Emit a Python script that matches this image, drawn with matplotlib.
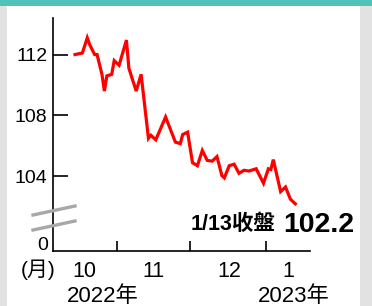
import numpy as np
import matplotlib
matplotlib.use('Agg')
import matplotlib.pyplot as plt
import matplotlib.dates as mdates
from matplotlib.lines import Line2D
from matplotlib.patches import Rectangle

plt.rcParams['font.family'] = ['Liberation Sans', 'Noto Sans CJK TC']

# 美元指數（每日收盤）
dates = np.array([
    '2022-10-15', '2022-10-18', '2022-10-20', '2022-10-21', '2022-10-23', '2022-10-24',
    '2022-10-26', '2022-10-27', '2022-10-28', '2022-10-30', '2022-10-31', '2022-11-02',
    '2022-11-05', '2022-11-06', '2022-11-09', '2022-11-11', '2022-11-14', '2022-11-15',
    '2022-11-17', '2022-11-21', '2022-11-25', '2022-11-27', '2022-11-28', '2022-11-30',
    '2022-12-02', '2022-12-04', '2022-12-06', '2022-12-08', '2022-12-10', '2022-12-12',
    '2022-12-14', '2022-12-15', '2022-12-17', '2022-12-19', '2022-12-21', '2022-12-23',
    '2022-12-25', '2022-12-28', '2022-12-31', '2023-01-02', '2023-01-03', '2023-01-04',
    '2023-01-07', '2023-01-09', '2023-01-11', '2023-01-13'], dtype='datetime64[D]')
values = np.array([
    112.0, 112.1, 113.1, 112.65, 112.0, 112.0,
    110.7, 109.6, 110.6, 110.7, 111.6, 111.3,
    112.95, 111.1, 109.6, 110.7, 106.5, 106.7,
    106.4, 107.9, 106.25, 106.15, 106.75, 106.9,
    104.9, 104.7, 105.7, 105.05, 105.0, 105.3,
    104.05, 103.9, 104.7, 104.8, 104.2, 104.4,
    104.35, 104.5, 103.55, 104.5, 104.45, 105.1,
    103.0, 103.3, 102.5, 102.2])

yticks = [104, 108, 112]
month_pos = np.array(['2022-10-19', '2022-11-16', '2022-12-17', '2023-01-10'], dtype='datetime64[D]')
month_labels = ['10', '11', '12', '1']
month_starts = np.array(['2022-11-01', '2022-12-01', '2023-01-01'], dtype='datetime64[D]')
y_bottom = 99.1   # 斷軸の下端（"0"と表示）
last_label = '1/13收盤'
last_value = '102.2'

W, H = 372, 306
fig = plt.figure(figsize=(W / 100, H / 100), dpi=100)
fig.patch.set_facecolor('white')

# 枠の背景（上の帯と左右の灰色）
fig.patches.append(Rectangle((0, 1 - 6 / H), 1, 6 / H, transform=fig.transFigure,
                             facecolor='#52c2b8', edgecolor='none', zorder=0))
fig.patches.append(Rectangle((0, 0), 7 / W, 1 - 6 / H, transform=fig.transFigure,
                             facecolor='#e2e2e2', edgecolor='none', zorder=0))
fig.patches.append(Rectangle((360 / W, 0), 12 / W, 1 - 6 / H, transform=fig.transFigure,
                             facecolor='#e2e2e2', edgecolor='none', zorder=0))

ax = fig.add_axes([53 / W, (H - 251) / H, (310 - 53) / W, (251 - 18) / H])
ax.set_facecolor('none')

ax.plot(dates.astype('datetime64[ms]').astype(object), values, color='#ff0000', lw=2.3,
        solid_joinstyle='miter', zorder=3)

ax.set_xlim(mdates.date2num(np.datetime64('2022-10-06')), mdates.date2num(np.datetime64('2023-01-19')))
ax.set_ylim(y_bottom, 114.4)

for s in ['top', 'right']:
    ax.spines[s].set_visible(False)
for s in ['left', 'bottom']:
    ax.spines[s].set_linewidth(1.2)

ax.set_yticks(yticks)
ax.set_yticklabels([str(v) for v in yticks])
ax.tick_params(axis='y', direction='in', length=10.5, width=1.2, pad=4, labelsize=14)

ax.set_xticks(mdates.date2num(month_starts))
ax.set_xticklabels([])
ax.set_xticks(mdates.date2num(month_pos), minor=True)
ax.set_xticklabels(month_labels, minor=True)
ax.tick_params(axis='x', which='major', direction='in', length=7, width=1.2)
ax.tick_params(axis='x', which='minor', length=0, pad=7, labelsize=15.5)

# 断軸下端の「0」
fig.text(48 / W, 1 - 246 / H, '0', ha='right', va='center', fontsize=14)

# 断軸マーク
for y0 in [215, 230]:
    fig.add_artist(Line2D([33 / W, 75 / W], [1 - y0 / H, 1 - (y0 - 9) / H],
                          transform=fig.transFigure, color='#a8a8a8', lw=2.4))

fig.text(38 / W, 1 - 270 / H, '(月)', ha='center', va='center', fontsize=15)
fig.text(103 / W, 1 - 302 / H, '2022年', ha='center', va='baseline', fontsize=16)
fig.text(294 / W, 1 - 302 / H, '2023年', ha='center', va='baseline', fontsize=16)

fig.text(276 / W, 1 - 230 / H, last_label, ha='right', va='baseline', fontsize=15.5,
         fontweight='bold')
fig.text(354 / W, 1 - 232 / H, last_value, ha='right', va='baseline', fontsize=20.5,
         fontweight='bold')

fig.savefig('out.png', dpi=100)
